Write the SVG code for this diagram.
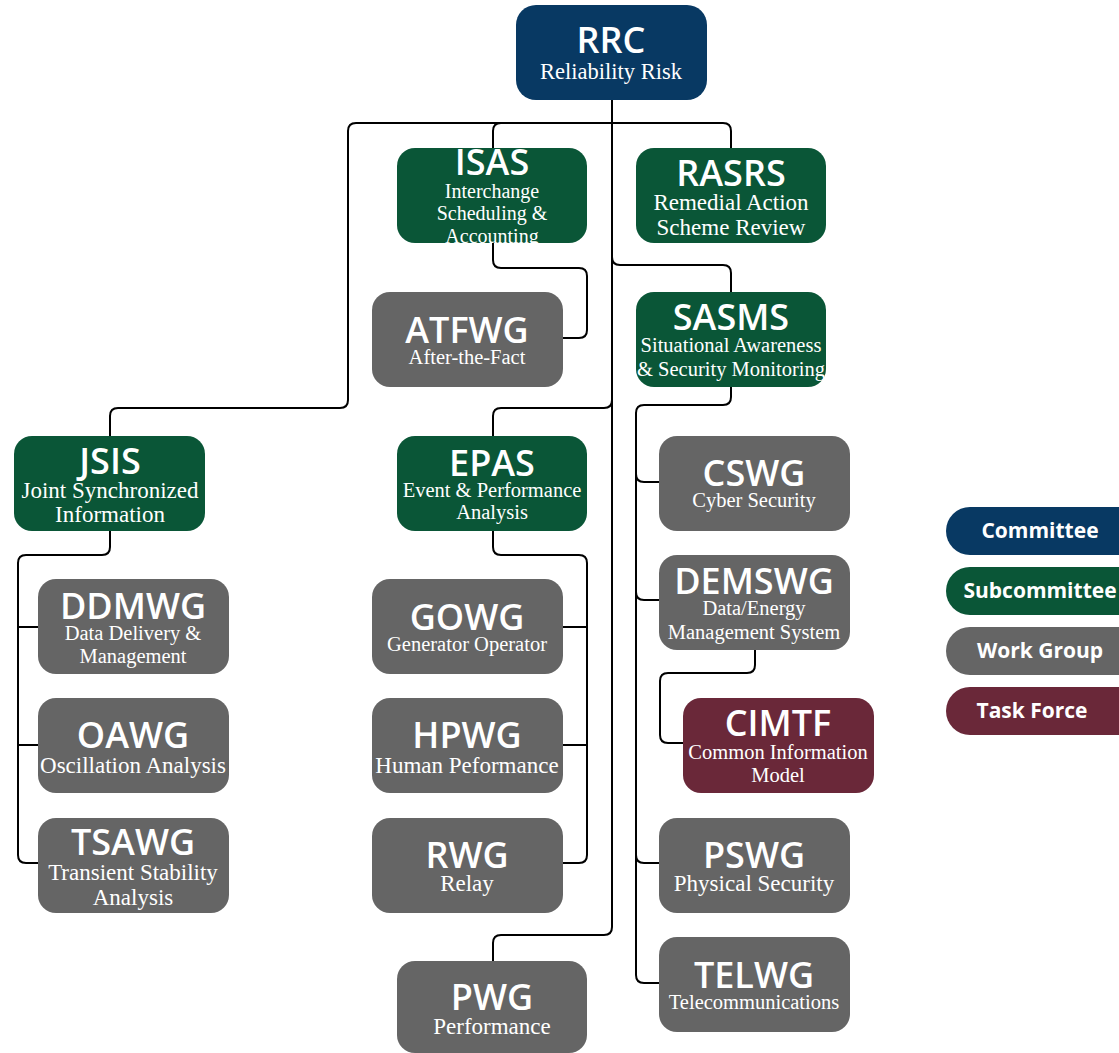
<svg xmlns="http://www.w3.org/2000/svg" width="1119" height="1053" viewBox="0 0 1119 1053">
<style>
.box{stroke:none}
.com{fill:#083963}
.sub{fill:#0A5637}
.wg{fill:#656565}
.tf{fill:#6A2839}
.t{font-family:"Open Sans","Liberation Sans",sans-serif;font-weight:600;font-size:36px;fill:#fff;text-anchor:middle}
.s{font-family:"Liberation Serif","DejaVu Serif",serif;fill:#fff;text-anchor:middle}
.a{font-size:20.5px}
.b{font-size:23px}
.lg{font-family:"Open Sans","Liberation Sans",sans-serif;font-weight:700;font-size:21px;fill:#fff;text-anchor:middle}
.c{fill:none;stroke:#000;stroke-width:2;stroke-linejoin:round}
</style>
<rect width="1119" height="1053" fill="#fff"/>
<g id="connectors">
<path class="c" d="M612,100 V123"/>
<path class="c" d="M612,123 H356 Q348,123 348,131 V400 Q348,408 340,408 H118 Q110,408 110,416 V436"/>
<path class="c" d="M612,123 H501 Q493,123 493,131 V148"/>
<path class="c" d="M612,123 H723 Q731,123 731,131 V148"/>
<path class="c" d="M493,243 V260 Q493,268 501,268 H579 Q587,268 587,276 V330 Q587,338 579,338 H563"/>
<path class="c" d="M612,123 V927 Q612,935 604,935 H501 Q493,935 493,943 V961"/>
<path class="c" d="M612,257 Q612,265 620,265 H723 Q731,265 731,273 V292"/>
<path class="c" d="M612,400 Q612,408 604,408 H501 Q493,408 493,416 V436"/>
<path class="c" d="M731,387 V397 Q731,405 723,405 H644 Q636,405 636,413 V975 Q636,983 644,983 H659"/>
<path class="c" d="M636,474 Q636,482 644,482 H659"/>
<path class="c" d="M636,592 Q636,600 644,600 H659"/>
<path class="c" d="M636,855 Q636,863 644,863 H659"/>
<path class="c" d="M755,650 V665 Q755,673 747,673 H668 Q660,673 660,681 V735 Q660,743 668,743 H683"/>
<path class="c" d="M110,531 V547 Q110,555 102,555 H26 Q18,555 18,563 V855 Q18,863 26,863 H38"/>
<path class="c" d="M18,627 H38"/>
<path class="c" d="M18,745 H38"/>
<path class="c" d="M493,531 V547 Q493,555 501,555 H579 Q587,555 587,563 V855 Q587,863 579,863 H563"/>
<path class="c" d="M587,627 H563"/>
<path class="c" d="M587,745 H563"/>
</g>
<g id="RRC"><rect class="box com" x="516" y="5" width="191" height="95" rx="20"/><text class="t" x="611" y="53" font-size="38">RRC</text><text class="s" x="611" y="79" font-size="22.5">Reliability Risk</text></g>
<g id="ISAS"><rect class="box sub" x="397" y="148" width="190" height="95" rx="18"/><text class="t" x="492" y="175">ISAS</text><text class="s" x="492" y="198" font-size="20">Interchange</text><text class="s" x="492" y="220" font-size="20">Scheduling &amp;</text><text class="s" x="492" y="243" font-size="20">Accounting</text></g>
<g id="RASRS"><rect class="box sub" x="636" y="148" width="190" height="95" rx="18"/><text class="t" x="731" y="186">RASRS</text><text class="s b" x="731" y="210">Remedial Action</text><text class="s b" x="731" y="235">Scheme Review</text></g>
<g id="ATFWG"><rect class="box wg" x="372" y="292" width="191" height="95" rx="18"/><text class="t" x="467" y="343">ATFWG</text><text class="s a" x="467" y="364">After-the-Fact</text></g>
<g id="SASMS"><rect class="box sub" x="636" y="292" width="190" height="95" rx="18"/><text class="t" x="731" y="330">SASMS</text><text class="s a" x="731" y="352">Situational Awareness</text><text class="s a" x="731" y="376">&amp; Security Monitoring</text></g>
<g id="JSIS"><rect class="box sub" x="14" y="436" width="191" height="95" rx="18"/><text class="t" x="110" y="474">JSIS</text><text class="s b" x="110" y="498">Joint Synchronized</text><text class="s b" x="110" y="522">Information</text></g>
<g id="EPAS"><rect class="box sub" x="397" y="436" width="190" height="95" rx="18"/><text class="t" x="492" y="476">EPAS</text><text class="s a" x="492" y="497">Event &amp; Performance</text><text class="s a" x="492" y="519">Analysis</text></g>
<g id="CSWG"><rect class="box wg" x="659" y="436" width="191" height="95" rx="18"/><text class="t" x="754" y="486">CSWG</text><text class="s a" x="754" y="507">Cyber Security</text></g>
<g id="DDMWG"><rect class="box wg" x="38" y="579" width="191" height="95" rx="18"/><text class="t" x="133" y="619">DDMWG</text><text class="s a" x="133" y="640">Data Delivery &amp;</text><text class="s a" x="133" y="663">Management</text></g>
<g id="GOWG"><rect class="box wg" x="372" y="579" width="191" height="95" rx="18"/><text class="t" x="467" y="630">GOWG</text><text class="s a" x="467" y="651">Generator Operator</text></g>
<g id="DEMSWG"><rect class="box wg" x="659" y="555" width="191" height="95" rx="18"/><text class="t" x="754" y="594">DEMSWG</text><text class="s a" x="754" y="615">Data/Energy</text><text class="s a" x="754" y="639">Management System</text></g>
<g id="OAWG"><rect class="box wg" x="38" y="698" width="191" height="95" rx="18"/><text class="t" x="133" y="748">OAWG</text><text class="s b" x="133" y="773">Oscillation Analysis</text></g>
<g id="HPWG"><rect class="box wg" x="372" y="698" width="191" height="95" rx="18"/><text class="t" x="467" y="748">HPWG</text><text class="s b" x="467" y="773">Human Peformance</text></g>
<g id="CIMTF"><rect class="box tf" x="683" y="698" width="191" height="95" rx="18"/><text class="t" x="778" y="736" font-size="38">CIMTF</text><text class="s a" x="778" y="759">Common Information</text><text class="s a" x="778" y="782">Model</text></g>
<g id="TSAWG"><rect class="box wg" x="38" y="818" width="191" height="95" rx="18"/><text class="t" x="133" y="855">TSAWG</text><text class="s b" x="133" y="880">Transient Stability</text><text class="s b" x="133" y="905">Analysis</text></g>
<g id="RWG"><rect class="box wg" x="372" y="818" width="191" height="95" rx="18"/><text class="t" x="467" y="868">RWG</text><text class="s b" x="467" y="891">Relay</text></g>
<g id="PSWG"><rect class="box wg" x="659" y="818" width="191" height="95" rx="18"/><text class="t" x="754" y="868">PSWG</text><text class="s b" x="754" y="891">Physical Security</text></g>
<g id="PWG"><rect class="box wg" x="397" y="961" width="190" height="92" rx="18"/><text class="t" x="492" y="1010">PWG</text><text class="s b" x="492" y="1034">Performance</text></g>
<g id="TELWG"><rect class="box wg" x="659" y="937" width="191" height="95" rx="18"/><text class="t" x="754" y="988">TELWG</text><text class="s a" x="754" y="1009">Telecommunications</text></g>
<g id="legend">
<rect class="com" x="946" y="507" width="200" height="48" rx="24"/><text class="lg" x="1040" y="538">Committee</text>
<rect class="sub" x="946" y="567" width="200" height="48" rx="24"/><text class="lg" x="1040" y="598">Subcommittee</text>
<rect class="wg" x="946" y="627" width="200" height="48" rx="24"/><text class="lg" x="1040" y="658">Work Group</text>
<rect class="tf" x="946" y="687" width="200" height="48" rx="24"/><text class="lg" x="1032" y="718">Task Force</text>
</g>
</svg>
